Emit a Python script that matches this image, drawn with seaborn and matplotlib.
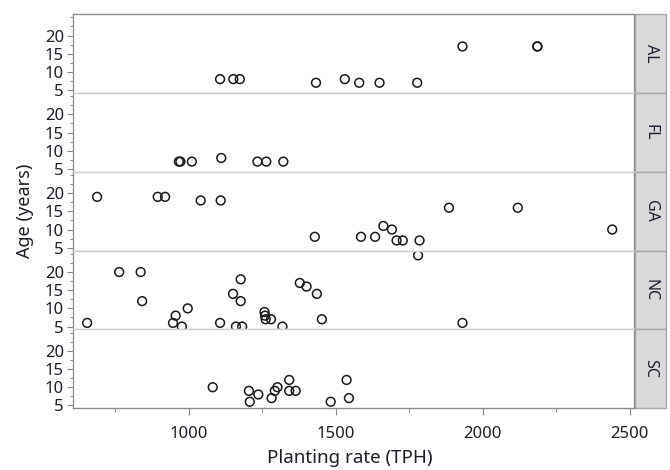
import matplotlib
matplotlib.use("Agg")
import matplotlib.pyplot as plt
from matplotlib.patches import Rectangle
from matplotlib.ticker import MultipleLocator
import pandas as pd
import seaborn as sns

# values
states = ["AL", "FL", "GA", "NC", "SC"]

al_tph = [1107, 1152, 1174, 1433, 1531, 1580, 1649, 1777, 1931, 2185, 2186]
al_age = [8, 8, 8, 7, 8, 7, 7, 7, 17, 17, 17]

fl_tph = [967, 972, 1011, 1111, 1234, 1264, 1322]
fl_age = [7, 7, 7, 8, 7, 7, 7]

ga_tph = [689, 895, 920, 1041, 1109, 1429, 1586, 1634, 1662, 1691,
          1707, 1728, 1785, 1885, 2119, 2440]
ga_age = [19, 19, 19, 18, 18, 8, 8, 8, 11, 10, 7, 7, 7, 16, 16, 10]

nc_tph = [655, 764, 837, 842, 947, 956, 977, 997, 1107, 1151, 1161, 1177,
          1177, 1182, 1258, 1260, 1262, 1280, 1319, 1378, 1401, 1436, 1453,
          1780, 1931]
nc_age = [6, 20, 20, 12, 6, 8, 5, 10, 6, 14, 5, 18, 12, 5, 9, 8, 7, 7, 5,
          17, 16, 14, 7, 24.6, 6]

sc_tph = [1082, 1205, 1208, 1237, 1282, 1293, 1302, 1342, 1342, 1364,
          1483, 1537, 1545]
sc_age = [10, 9, 6, 8, 7, 9, 10, 12, 9, 9, 6, 12, 7]

frames = []
for st, tph, age in zip(states,
                        [al_tph, fl_tph, ga_tph, nc_tph, sc_tph],
                        [al_age, fl_age, ga_age, nc_age, sc_age]):
    frames.append(pd.DataFrame({"state": st, "tph": tph, "age": age}))
df = pd.concat(frames, ignore_index=True)

sns.set_theme(style="white")
plt.rcParams["font.family"] = ["Noto Sans", "DejaVu Sans"]

grid_col = "#cfcfcf"
axis_col = "#8a8a8a"
text_col = "#1e1e2a"

g = sns.FacetGrid(df, row="state", row_order=states, sharex=True, sharey=True,
                  despine=False, height=1.0, aspect=6.7)
g.map_dataframe(sns.scatterplot, x="tph", y="age", s=40, marker="o",
                facecolors="none", edgecolor="#1a1a1a", linewidth=1.1)

fig = g.figure
fig.set_size_inches(6.7, 4.7)
fig.subplots_adjust(left=0.1085, right=0.9467, top=0.970, bottom=0.1313, hspace=0)
g.set_titles("")
g.set_axis_labels("", "")

for i, (ax, st) in enumerate(zip(g.axes.flat, states)):
    ax.set_xlim(606, 2515)
    ax.set_ylim(4.2, 25.9)
    ax.set_yticks([5, 10, 15, 20])
    ax.yaxis.set_minor_locator(MultipleLocator(2.5))
    ax.xaxis.set_major_locator(MultipleLocator(500))
    ax.xaxis.set_minor_locator(MultipleLocator(250))
    ax.tick_params(axis="y", which="major", left=True, length=4.3, width=0.8,
                   color=axis_col, labelsize=12, labelcolor=text_col, pad=2)
    ax.tick_params(axis="y", which="minor", left=True, length=2.2, width=0.7,
                   color=axis_col)
    ax.tick_params(axis="x", which="major", bottom=(i == 4), length=5, width=0.8,
                   color=axis_col, labelsize=12, labelcolor=text_col, pad=8)
    ax.tick_params(axis="x", which="minor", bottom=(i == 4), length=3, width=0.8,
                   color=axis_col)
    for side in ["top", "bottom"]:
        ax.spines[side].set_color(grid_col)
        ax.spines[side].set_linewidth(1.0)
    ax.spines["left"].set_color(axis_col)
    ax.spines["right"].set_color(axis_col)
    ax.spines["left"].set_linewidth(0.9)
    ax.spines["right"].set_linewidth(0.9)
    if i == 0:
        ax.spines["top"].set_color(axis_col)
    if i == 4:
        ax.spines["bottom"].set_color(axis_col)

    # grey strip on the right with the state name
    ax.add_patch(Rectangle((1.002, 0.0), 0.054, 1.0, transform=ax.transAxes,
                           facecolor="#d9d9d9", edgecolor="#a8a8a8",
                           linewidth=1.0, clip_on=False))
    ax.text(1.029, 0.5, st, transform=ax.transAxes, rotation=270,
            ha="center", va="center", fontsize=11.5, color=text_col)

fig.text(0.037, 0.5515, "Age (years)", rotation=90, ha="center", va="center",
         fontsize=13, color=text_col)
fig.text(0.522, 0.026, "Planting rate (TPH)", ha="center", va="center",
         fontsize=13.5, color=text_col)

fig.savefig("out.png", dpi=100)
